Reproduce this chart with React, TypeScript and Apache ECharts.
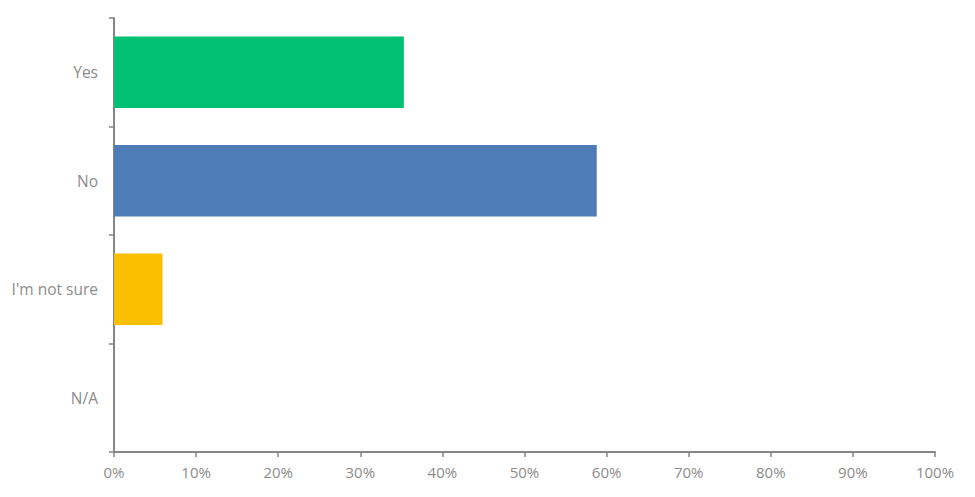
import React, { useEffect, useRef } from "react";
import * as echarts from "echarts";

const categories = ["Yes", "No", "I'm not sure", "N/A"];
const values = [35.3, 58.8, 5.9, 0];
const barColors = ["#00C072", "#4E7CB6", "#FAC000", "#A5A5A5"];
const xTicks = [0, 10, 20, 30, 40, 50, 60, 70, 80, 90, 100];

export default function App() {
  const ref = useRef<HTMLDivElement>(null);
  useEffect(() => {
    if (!ref.current) return;
    const chart = echarts.init(ref.current, undefined, { renderer: "svg" });
    const font = "'Open Sans', Lato, sans-serif";
    chart.setOption({
      animation: false,
      grid: { left: 114, right: 40, top: 18, bottom: 45, containLabel: false },
      xAxis: {
        type: "value",
        min: xTicks[0],
        max: xTicks[xTicks.length - 1],
        interval: 10,
        axisLine: { show: true, lineStyle: { color: "#868686", width: 2 } },
        axisTick: { show: true, inside: false, length: 5, lineStyle: { color: "#868686", width: 1.5 } },
        splitLine: { show: false },
        axisLabel: {
          formatter: (v: number) => v + "%",
          color: "#8C8C8C",
          fontSize: 15,
          fontFamily: font,
          margin: 12,
        },
      },
      yAxis: {
        type: "category",
        data: categories,
        inverse: true,
        axisLine: { show: true, lineStyle: { color: "#868686", width: 2 } },
        axisTick: { show: true, inside: false, length: 5, alignWithLabel: false, lineStyle: { color: "#868686", width: 1.5 } },
        axisLabel: {
          color: "#8C8C8C",
          fontSize: 15.5,
          fontFamily: font,
          margin: 16,
        },
      },
      series: [
        {
          type: "bar",
          data: values.map((v, i) => ({ value: v, itemStyle: { color: barColors[i] } })),
          barCategoryGap: "34%",
        },
      ],
    });
    return () => chart.dispose();
  }, []);
  return <div ref={ref} style={{ width: 975, height: 497, position: "absolute", left: 0, top: 0 }} />;
}
